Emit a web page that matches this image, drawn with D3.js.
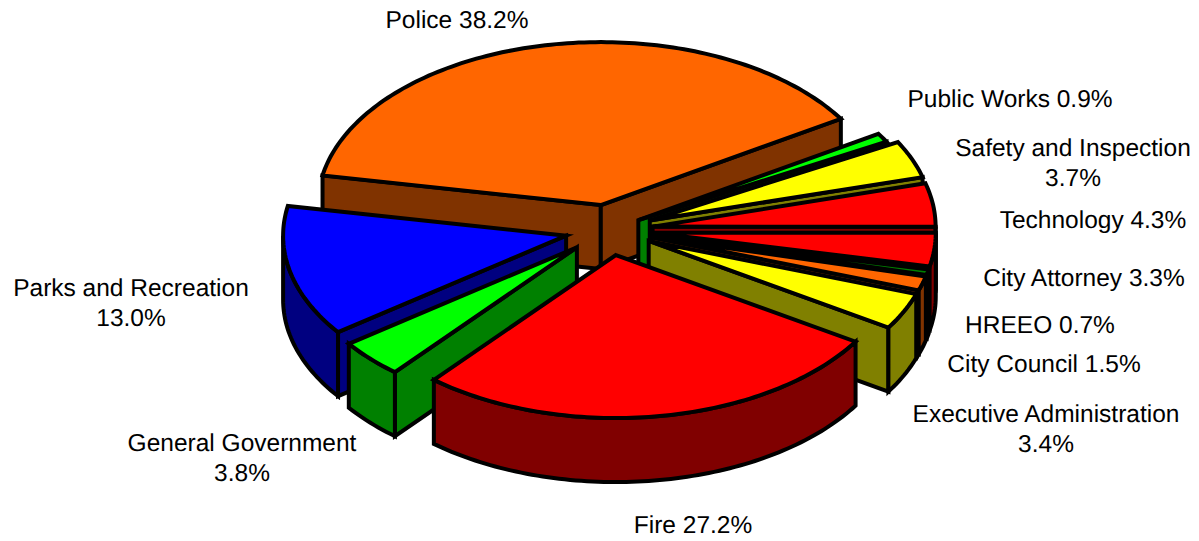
<!DOCTYPE html>
<html>
<head>
<meta charset="utf-8">
<script src="https://cdn.jsdelivr.net/npm/d3@7"></script>
<style>
  html, body { margin: 0; background: #fff; }
  text { font-family: "Liberation Sans", Arial, sans-serif; font-size: 24.5px; fill: #000; text-rendering: geometricPrecision; }
</style>
</head>
<body>
<svg id="chart" width="1199" height="541"></svg>
<script>
// clockwise from the Police slice
const departments = ['Police', 'Public Works', 'Safety and Inspection', 'Technology', 'City Attorney', 'HREEO', 'City Council', 'Executive Administration', 'Fire', 'General Government', 'Parks and Recreation'];
const shares = [38.2, 0.9, 3.7, 4.3, 3.3, 0.7, 1.5, 3.4, 27.2, 3.8, 13.0];
// sweep of each wedge as it is drawn; the small ones do not quite follow the printed figures
const sweeps = [38.2, 0.9, 3.7, 4.3, 3.3, 0.55, 1.42, 3.63, 27.2, 3.8, 13.0];
const topColors = ['#ff6600', '#00ff00', '#ffff00', '#ff0000', '#ff0000', '#008000', '#ff6600', '#ffff00', '#ff0000', '#00ff00', '#0000ff'];
const wallColors = ['#803300', '#008000', '#808000', '#800000', '#800000', '#008000', '#803300', '#808000', '#800000', '#008000', '#000080'];

// label anchors (center x, first baseline), and where the text wraps
const labelPos = [[457, 28], [1010, 107], [1073, 156], [1093, 228], [1084, 286], [1040, 333], [1044, 372], [1046, 422], [693, 533], [242, 451], [131, 296]];
const wrapped = [false, false, true, false, false, false, false, true, false, true, true];

const cx = 609, cy = 230, rx = 283, ry = 163, depth = 64;
const squash = ry / rx;
const explode = d => d.index === 1 ? 34 : 44;
const rad = d3.scaleLinear().domain([0, 360]).range([0, 2 * Math.PI]);

const svg = d3.select('#chart');

const pie = d3.pie().sort(null)
  .startAngle(rad(-79.5))
  .endAngle(rad(280.5));

const slices = pie(sweeps).map(d => {
  const mid = (d.startAngle + d.endAngle) / 2;
  d.ax = cx + explode(d) * Math.sin(mid);
  d.ay = cy - explode(d) * squash * Math.cos(mid);
  return d;
});

const rimPoint = (d, a) => [d.ax + rx * Math.sin(a), d.ay - ry * Math.cos(a)];
const line = d3.line();

function rimPoints(d, a0, a1) {
  const n = Math.max(2, Math.ceil((a1 - a0) / 0.02));
  return d3.range(n + 1).map(i => rimPoint(d, a0 + (a1 - a0) * i / n));
}

function wall(d, a) {
  const p = rimPoint(d, a);
  return line([[d.ax, d.ay], p, [p[0], p[1] + depth], [d.ax, d.ay + depth]]) + 'Z';
}

// only the faces turned to the viewer
function walls(d) {
  const out = [];
  if (Math.sin(d.startAngle) < 0) out.push(wall(d, d.startAngle));
  if (Math.sin(d.endAngle) > 0) out.push(wall(d, d.endAngle));
  const a0 = Math.max(d.startAngle, Math.PI / 2), a1 = Math.min(d.endAngle, 3 * Math.PI / 2);
  if (a1 > a0) {
    const upper = rimPoints(d, a0, a1);
    const lower = upper.map(p => [p[0], p[1] + depth]).reverse();
    out.push(line(upper.concat(lower)) + 'Z');
  }
  return out;
}

// back to front
const ordered = slices.slice().sort((a, b) => a.ay - b.ay);

const group = svg.selectAll('g.slice')
  .data(ordered)
  .enter()
  .append('g')
  .attr('class', 'slice')
  .attr('stroke', '#000')
  .attr('stroke-width', 4)
  .attr('stroke-linejoin', 'miter');

group.selectAll('path.wall')
  .data(d => walls(d).map(p => ({ p, i: d.index })))
  .enter()
  .append('path')
  .attr('class', 'wall')
  .attr('d', d => d.p)
  .attr('fill', d => wallColors[d.i]);

group.append('path')
  .attr('class', 'top')
  .attr('d', d => line([[d.ax, d.ay]].concat(rimPoints(d, d.startAngle, d.endAngle))) + 'Z')
  .attr('fill', d => topColors[d.index]);

const label = svg.selectAll('text')
  .data(departments)
  .enter()
  .append('text')
  .attr('text-anchor', 'middle')
  .attr('x', (d, i) => labelPos[i][0])
  .attr('y', (d, i) => labelPos[i][1]);

label.each(function(d, i) {
  const pct = shares[i].toFixed(1) + '%';
  const t = d3.select(this);
  if (wrapped[i]) {
    t.append('tspan').attr('x', labelPos[i][0]).text(d);
    t.append('tspan').attr('x', labelPos[i][0]).attr('dy', 30).text(pct);
  } else {
    t.text(d + ' ' + pct);
  }
});
</script>
</body>
</html>
